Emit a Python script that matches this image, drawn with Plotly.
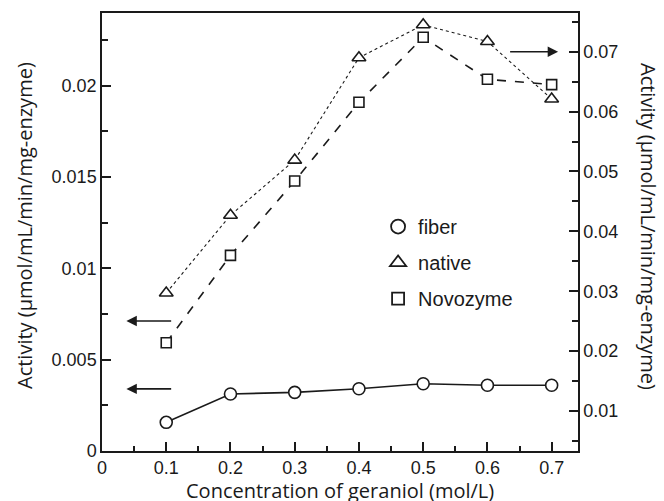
import plotly.graph_objects as go

conc = [0.1, 0.2, 0.3, 0.4, 0.5, 0.6, 0.7]
fiber = [0.00157, 0.00312, 0.00321, 0.00341, 0.00368, 0.0036, 0.0036]
novozyme = [0.00593, 0.01071, 0.01478, 0.01909, 0.02265, 0.02035, 0.02006]
native = [0.0297, 0.0427, 0.0519, 0.0690, 0.0745, 0.0717, 0.0621]

x_ticks = [0, 0.1, 0.2, 0.3, 0.4, 0.5, 0.6, 0.7]
x_ticklabels = ["0", "0.1", "0.2", "0.3", "0.4", "0.5", "0.6", "0.7"]
yl_ticks = [0, 0.005, 0.01, 0.015, 0.02]
yl_ticklabels = ["0", "0.005", "0.01", "0.015", "0.02"]
yr_ticks = [0.01, 0.02, 0.03, 0.04, 0.05, 0.06, 0.07]
yr_ticklabels = ["0.01", "0.02", "0.03", "0.04", "0.05", "0.06", "0.07"]

title_x = "Concentration of geraniol (mol/L)"
title_y = "Activity (μmol/mL/min/mg-enzyme)"

black = "#1a1a1a"
fig = go.Figure()

fig.add_trace(go.Scatter(x=conc, y=fiber, mode="lines+markers", showlegend=False,
                         line=dict(color=black, width=1.6),
                         marker=dict(symbol="circle", size=12, color="white",
                                     line=dict(color=black, width=1.6))))
fig.add_trace(go.Scatter(x=conc, y=novozyme, mode="lines+markers", showlegend=False,
                         line=dict(color=black, width=1.6, dash="dash"),
                         marker=dict(symbol="square", size=10, color="white",
                                     line=dict(color=black, width=1.6))))
fig.add_trace(go.Scatter(x=conc, y=native, mode="lines+markers", showlegend=False,
                         yaxis="y2",
                         line=dict(color=black, width=1.1, dash="dot"),
                         marker=dict(symbol="triangle-up", size=12, color="white",
                                     line=dict(color=black, width=1.6))))

# legend-only entries (markers only)
for name, sym, sz in [("fiber", "circle", 14), ("native", "triangle-up", 14), ("Novozyme", "square", 12)]:
    fig.add_trace(go.Scatter(x=[None], y=[None], mode="markers", name=name, legendgroup=name,
                             marker=dict(symbol=sym, size=sz, color="white",
                                         line=dict(color=black, width=1.8))))

axis_common = dict(showline=True, linecolor=black, linewidth=1.5, ticks="inside",
                   tickcolor=black, tickwidth=1.5, ticklen=9, showgrid=False, zeroline=False,
                   tickfont=dict(family="Liberation Sans, Arial", size=18, color=black))

fig.update_layout(
    width=664, height=501,
    margin=dict(l=102, r=86, t=13, b=50),
    plot_bgcolor="white", paper_bgcolor="white",
    xaxis=dict(range=[0, 0.741], tickvals=x_ticks, ticktext=x_ticklabels, mirror=True,
               minor=dict(dtick=0.05, tick0=0, ticks="inside", ticklen=5, tickcolor=black, tickwidth=1.5),
               **axis_common),
    yaxis=dict(range=[0, 0.02398], tickvals=yl_ticks, ticktext=yl_ticklabels,
               minor=dict(dtick=0.0025, tick0=0, ticks="inside", ticklen=6, tickcolor=black, tickwidth=1.5),
               **axis_common),
    yaxis2=dict(range=[0.00332, 0.07647], overlaying="y", side="right", anchor="x",
                tickvals=yr_ticks, ticktext=yr_ticklabels,
                minor=dict(dtick=0.005, tick0=0, ticks="inside", ticklen=6, tickcolor=black, tickwidth=1.5),
                **axis_common),
    legend=dict(x=0.58, y=0.557, xanchor="left", yanchor="top", bgcolor="rgba(0,0,0,0)",
                font=dict(family="Liberation Sans, Arial", size=20, color=black),
                tracegroupgap=7, traceorder="grouped", itemsizing="trace"),
    showlegend=True,
)

title_font = dict(family="Open Sans", size=20, color=black)
fig.add_annotation(text=title_x, xref="paper", yref="paper", x=0.5, y=0, yshift=-39,
                   xanchor="center", yanchor="middle", showarrow=False, font=title_font)
fig.add_annotation(text=title_y, xref="paper", yref="paper", x=0, xshift=-78, y=0.5, yshift=6,
                   xanchor="center", yanchor="middle", textangle=-90, showarrow=False, font=title_font)
fig.add_annotation(text=title_y, xref="paper", yref="paper", x=1, xshift=71, y=0.5, yshift=6,
                   xanchor="center", yanchor="middle", textangle=90, showarrow=False, font=title_font)

# arrows indicating the axis for each series
arrow = dict(showarrow=True, arrowhead=2, arrowsize=1.3, arrowwidth=1.6, arrowcolor=black, text="")
fig.add_annotation(x=0.038, y=0.00712, ax=0.11, ay=0.00712, xref="x", yref="y",
                   axref="x", ayref="y", **arrow)
fig.add_annotation(x=0.038, y=0.0034, ax=0.11, ay=0.0034, xref="x", yref="y",
                   axref="x", ayref="y", **arrow)
fig.add_annotation(x=0.71, y=0.07, ax=0.633, ay=0.07, xref="x", yref="y2",
                   axref="x", ayref="y2", **arrow)

fig.write_html("out.html")
